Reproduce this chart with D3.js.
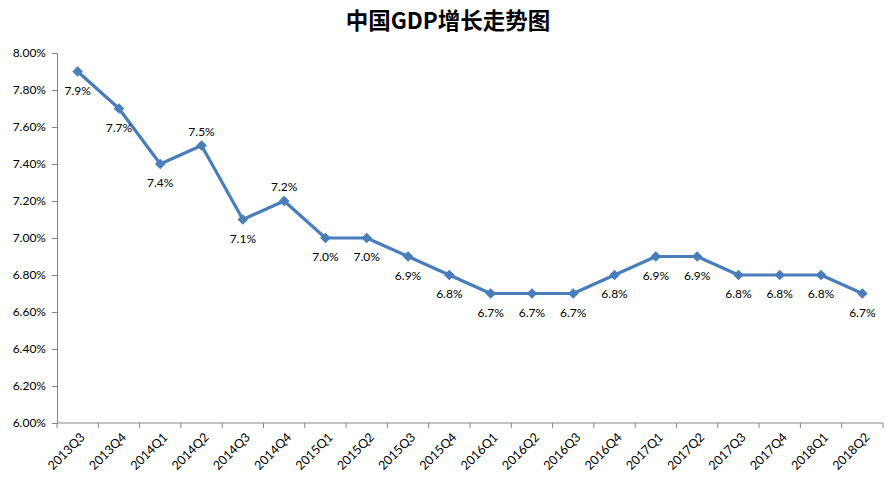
<!DOCTYPE html>
<html><head><meta charset="utf-8">
<script src="https://cdn.jsdelivr.net/npm/d3@7"></script>
<style>body{margin:0;background:#fff}svg{display:block}</style>
</head><body>
<script>
const categories = ["2013Q3","2013Q4","2014Q1","2014Q2","2014Q3","2014Q4","2015Q1","2015Q2","2015Q3","2015Q4","2016Q1","2016Q2","2016Q3","2016Q4","2017Q1","2017Q2","2017Q3","2017Q4","2018Q1","2018Q2"];
const gdpGrowth = [7.9,7.7,7.4,7.5,7.1,7.2,7.0,7.0,6.9,6.8,6.7,6.7,6.7,6.8,6.9,6.9,6.8,6.8,6.8,6.7];
const yTicks = [6.0,6.2,6.4,6.6,6.8,7.0,7.2,7.4,7.6,7.8,8.0];
const labelAbove = ["2014Q2","2014Q4"];
const title = "中国GDP增长走势图";

const W = 887, H = 483;
const m = {left:57, right:4, top:53, bottom:60};
const svg = d3.select("body").append("svg").attr("width",W).attr("height",H);
const x = d3.scaleBand().domain(categories).range([m.left, W-m.right]).padding(0);
const y = d3.scaleLinear().domain([6.0,8.0]).range([H-m.bottom, m.top]);
const font = "Lato, 'Liberation Sans', sans-serif";
const axisColor = "#868686";

svg.append("text").attr("x",448).attr("y",29).attr("text-anchor","middle")
  .attr("font-family","'Noto Sans CJK SC', sans-serif").attr("font-weight","bold")
  .attr("font-size",22.5).attr("fill","#000").text(title);

// y axis
const ya = svg.append("g").attr("transform",`translate(${m.left},0)`)
  .call(d3.axisLeft(y).tickValues(yTicks).tickSize(5).tickSizeOuter(0).tickFormat(d=>d.toFixed(2)+"%"));
ya.select(".domain").attr("stroke",axisColor);
ya.selectAll(".tick line").attr("stroke",axisColor);
ya.selectAll(".tick text").attr("font-family",font).attr("font-size",12).attr("fill","#000").attr("x",-11);

// x axis
const xa = svg.append("g").attr("transform",`translate(0,${H-m.bottom})`);
xa.append("line").attr("x1",m.left).attr("x2",W-m.right).attr("stroke",axisColor);
const edges = categories.map(c=>x(c)).concat([x(categories[categories.length-1])+x.bandwidth()]);
xa.selectAll(".xt").data(edges).join("line").attr("x1",d=>d).attr("x2",d=>d)
  .attr("y1",0).attr("y2",5).attr("stroke",axisColor);
xa.selectAll(".xl").data(categories).join("text")
  .attr("transform",d=>`translate(${x(d)+x.bandwidth()/2+5},${12}) rotate(-45)`)
  .attr("text-anchor","end").attr("dy","0.35em")
  .attr("font-family",font).attr("font-size",12.5).attr("fill","#000").text(d=>d);

// line
const pts = categories.map((c,i)=>({c, v:gdpGrowth[i]}));
const line = d3.line().x(d=>x(d.c)+x.bandwidth()/2).y(d=>y(d.v));
svg.append("path").datum(pts).attr("d",line).attr("fill","none")
  .attr("stroke","#4a7ebb").attr("stroke-width",3.2).attr("stroke-linejoin","round");
svg.selectAll(".mk").data(pts).join("path")
  .attr("transform",d=>`translate(${x(d.c)+x.bandwidth()/2},${y(d.v)})`)
  .attr("d",d3.symbol(d3.symbolDiamond2, 72)()).attr("fill","#4a7ebb");

// labels
svg.selectAll(".lb").data(pts).join("text")
  .attr("x",d=>x(d.c)+x.bandwidth()/2)
  .attr("y",d=>y(d.v) + (labelAbove.includes(d.c) ? -10 : 23))
  .attr("text-anchor","middle")
  .attr("font-family",font).attr("font-size",12).attr("fill","#000")
  .text(d=>d.v.toFixed(1)+"%");
</script>
</body></html>
